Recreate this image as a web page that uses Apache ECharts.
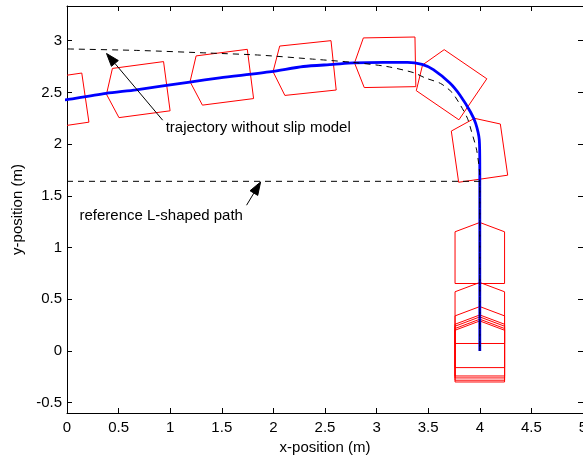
<!DOCTYPE html>
<html>
<head>
<meta charset="utf-8">
<script src="https://cdn.jsdelivr.net/npm/echarts@6/dist/echarts.min.js"></script>
<style>
  html, body { margin: 0; padding: 0; background: #fff; }
  #chart { width: 583px; height: 459px; }
</style>
</head>
<body>
<div id="chart"></div>
<script>
// Axis ticks
const xTicks = [0, 0.5, 1, 1.5, 2, 2.5, 3, 3.5, 4, 4.5, 5];
const yTicks = [-0.5, 0, 0.5, 1, 1.5, 2, 2.5, 3];

// Robot trajectory with the slip model (travel order: starts at (4, 0))
const slipPath = [
  [4.0, 0.0], [4.0, 0.5], [4.0, 1.0], [4.0, 1.5], [4.0, 1.78], [3.995, 2.04],
  [3.96, 2.20], [3.91, 2.31], [3.81, 2.47], [3.71, 2.59], [3.55, 2.72],
  [3.44, 2.77], [3.30, 2.79], [3.076, 2.79], [2.775, 2.785], [2.58, 2.77],
  [2.29, 2.75], [1.98, 2.70], [1.48, 2.64], [1.19, 2.60], [0.67, 2.525],
  [0.38, 2.49], [0.0, 2.43], [-0.12, 2.41]
];

// Trajectory without the slip model
const noSlipPath = [
  [4.0, 0.0], [4.0, 1.68], [3.97, 1.94], [3.92, 2.12], [3.88, 2.25],
  [3.81, 2.38], [3.73, 2.50], [3.62, 2.586], [3.47, 2.64], [3.36, 2.69],
  [3.10, 2.75], [2.77, 2.79], [2.40, 2.82], [1.87, 2.86], [1.38, 2.88],
  [0.70, 2.905], [0.0, 2.92], [-0.10, 2.922]
];

// Reference L-shaped path
const lPath = [[0, 1.64], [4, 1.64], [4, 0]];

// Robot poses sampled along the slip trajectory (centre x, centre y, heading in degrees)
const robotX = [4.0, 4.0, 4.0, 4.0, 4.0, 4.0, 4.0, 3.99, 3.685, 3.076, 2.285, 1.48, 0.67, -0.119];
const robotY = [0.0, 0.017, 0.039, 0.058, 0.139, 0.372, 0.952, 1.962, 2.602, 2.79, 2.73, 2.64, 2.52, 2.406];
const robotHeading = [90, 90, 90, 90, 90, 90, 90, 98.2, 145.7, 181, 186, 187.3, 187.6, 188.3];

// Robot outline in body frame (forward, left), metres
const robotShape = [[-0.30, -0.24], [0.20, -0.24], [0.29, 0], [0.20, 0.24], [-0.30, 0.24]];

// Text callouts with arrows (data coordinates)
const noteText = ['trajectory without slip model', 'reference L-shaped path'];
const noteAt = [[0.956, 2.154], [0.121, 1.306]];
const noteFrom = [[0.927, 2.231], [1.74, 1.409]];
const noteTip = [[0.383, 2.876], [1.876, 1.634]];

const FONT = '"Liberation Sans", Arial, Helvetica, sans-serif';
const chart = echarts.init(document.getElementById('chart'), null, { renderer: 'canvas' });

const robotData = robotX.map((x, i) => [x, robotY[i], robotHeading[i]]);

const baseAxis = {
  axisLine: { show: true, onZero: false, lineStyle: { color: '#000', width: 1 } },
  axisTick: { show: true, inside: true, length: 5, lineStyle: { color: '#000', width: 1 } },
  splitLine: { show: false },
};

chart.setOption({
  animation: false,
  backgroundColor: '#fff',
  grid: { left: 67, top: 6, right: 0, bottom: 46, containLabel: false, outerBoundsMode: 'none' },
  xAxis: [
    Object.assign({}, baseAxis, {
      type: 'value', position: 'bottom', min: 0, max: 5, interval: 0.5,
      axisLabel: { color: '#000', fontFamily: FONT, fontSize: 15, margin: 7, showMaxLabel: true },
      name: 'x-position (m)', nameLocation: 'middle', nameGap: 27,
      nameTextStyle: { color: '#000', fontFamily: FONT, fontSize: 15 }
    }),
    Object.assign({}, baseAxis, {
      type: 'value', position: 'top', min: 0, max: 5, interval: 0.5,
      axisLabel: { show: false }
    })
  ],
  yAxis: [
    Object.assign({}, baseAxis, {
      type: 'value', position: 'left', min: -0.6, max: 3.335,
      axisTick: { show: true, inside: true, length: 5, customValues: yTicks, lineStyle: { color: '#000', width: 1 } },
      axisLabel: { color: '#000', fontFamily: FONT, fontSize: 15, margin: 5, customValues: yTicks },
      name: 'y-position (m)', nameLocation: 'middle', nameGap: 35,
      nameTextStyle: { color: '#000', fontFamily: FONT, fontSize: 15 }
    }),
    Object.assign({}, baseAxis, {
      type: 'value', position: 'right', min: -0.6, max: 3.335,
      axisTick: { show: true, inside: true, length: 5, customValues: yTicks, lineStyle: { color: '#000', width: 1 } },
      axisLabel: { show: false }
    })
  ],
  series: [
    {
      name: 'robot',
      type: 'custom',
      clip: true,
      z: 2,
      encode: { x: 0, y: 1 },
      data: robotData,
      renderItem: function (params, api) {
        const cx = api.value(0), cy = api.value(1), th = api.value(2) * Math.PI / 180;
        const c = Math.cos(th), s = Math.sin(th);
        const pts = robotShape.map(p => api.coord([cx + p[0] * c - p[1] * s, cy + p[0] * s + p[1] * c]));
        return {
          type: 'polygon',
          shape: { points: pts },
          style: { fill: 'none', stroke: '#ff0000', lineWidth: 1 }
        };
      }
    },
    {
      name: 'with slip',
      type: 'line',
      z: 3,
      data: slipPath,
      showSymbol: false,
      smooth: 0.25,
      lineStyle: { color: '#0000ff', width: 2.8 }
    },
    {
      name: 'without slip',
      type: 'line',
      z: 4,
      data: noSlipPath,
      showSymbol: false,
      smooth: 0.25,
      lineStyle: { color: '#000', width: 1, type: [6, 5] }
    },
    {
      name: 'L path',
      type: 'line',
      z: 4,
      data: lPath,
      showSymbol: false,
      lineStyle: { color: '#000', width: 1, type: [6, 5] }
    }
  ]
});

// Callout texts and arrows placed through the grid's coordinate system
const graphics = [];
noteText.forEach((t, i) => {
  const at = chart.convertToPixel({ gridIndex: 0 }, noteAt[i]);
  const f = chart.convertToPixel({ gridIndex: 0 }, noteFrom[i]);
  const tip = chart.convertToPixel({ gridIndex: 0 }, noteTip[i]);
  const dx = tip[0] - f[0], dy = tip[1] - f[1];
  const len = Math.hypot(dx, dy);
  const ux = dx / len, uy = dy / len, nx = -uy, ny = ux;
  const headLen = 13, headHalf = 4.5;
  const bx = tip[0] - ux * headLen, by = tip[1] - uy * headLen;
  graphics.push({
    type: 'text', x: at[0], y: at[1], z: 10,
    style: { text: t, fill: '#000', font: '15px ' + FONT, textAlign: 'left', textVerticalAlign: 'middle' }
  });
  graphics.push({
    type: 'line', z: 10,
    shape: { x1: f[0], y1: f[1], x2: bx, y2: by },
    style: { stroke: '#000', lineWidth: 1 }
  });
  graphics.push({
    type: 'polygon', z: 10,
    shape: { points: [tip, [bx + nx * headHalf, by + ny * headHalf], [bx - nx * headHalf, by - ny * headHalf]] },
    style: { fill: '#000', stroke: '#000', lineWidth: 1 }
  });
});
chart.setOption({ graphic: graphics });
</script>
</body>
</html>
